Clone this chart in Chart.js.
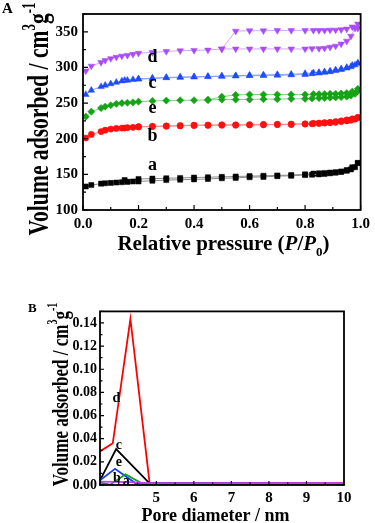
<!DOCTYPE html>
<html><head><meta charset="utf-8">
<script src="https://cdn.jsdelivr.net/npm/chart.js@4.4.0/dist/chart.umd.min.js"></script>
<style>
html,body{margin:0;padding:0;background:#fff;width:375px;height:523px;overflow:hidden}
canvas{position:absolute;left:0}
#ca{top:0}
#cb{top:300px}
</style></head><body>
<canvas id="ca" width="375" height="260"></canvas>
<canvas id="cb" width="375" height="223"></canvas>
<script>
// ---------- Panel A: N2 isotherms ----------
const pAds = [0.01,0.03,0.065,0.08,0.1,0.12,0.14,0.16,0.18,0.2,0.25,0.3,0.35,0.4,0.45,0.5,0.55,0.6,0.65,0.7,0.75,0.8,0.825,0.85,0.87,0.89,0.91,0.93,0.95,0.965,0.98,0.99];
const pDes = [0.99,0.97,0.95,0.93,0.91,0.89,0.87,0.85,0.83,0.8,0.75,0.7,0.65,0.6,0.55,0.5,0.45,0.4,0.35,0.3,0.25,0.2,0.15];
const aAds = [133,135,137,137.5,138,138.5,139,139.5,140,140,141,142,142.5,143,143.5,144.5,145,146,146.5,147.5,148,149,149.5,150,150.5,151.5,152.5,153.5,155,157,160,166];
const aDes = [166,160,156,154,153,152.5,152,151.5,151,150,149,148.5,148,147.5,147,146.5,146,145.5,145,144.5,144,143.5,142];
const bAds = [201,206,210,212,213.5,214.5,215,215.5,216,216.5,217,217.5,218,218.5,219,219,219,219.5,219.5,220,220,220.5,221,221.5,222,222.5,223,224,225,226,227.5,229.5];
const bDes = [230,228,226.5,225,224,223,222.5,222,221.5,221,220.5,220,220,219.5,219.5,219.5,219,219,218.5,218,217.5,217,215];
const eAds = [231,238,243,245,247,249,250,250.5,251,252,253,253.5,254,254,254.5,255,255,255,255.5,255.5,256,256,256.5,257,257,257.5,258,258.5,259,260.5,263,267];
const eDes = [270,266,264,263.5,263,263,262.5,262.5,262.5,262,262,262,262,262,261.5,259,254.5,null,null,null,null,null,null];
const cAds = [262,268,273,275,277,279,281,282,283,283.5,284.5,285.5,286,286.5,287,287.5,288,288.5,288.5,289,289.5,290,291,292,293,294,295.5,297,299,301,303.5,306];
const cDes = [306,303,300,298,296.5,295,294,293,292.5,291.5,290.5,290,289.5,289,288.5,288,287.5,287,286.5,286,285,284,282];
const dAds = [295,302,307,310,312.5,314.5,316,317,318.5,320,321,322.5,323.5,324,324.5,326,326,326,326,326,326,326,326.5,326.5,327,328.5,330,333,337,344,355,355];
const dDes = [361,357,354,353,352.5,352.5,352,352,352,352,352,352,351.5,351.5,351,326,null,null,null,null,null,null,null];
const xTicksA = [0,0.2,0.4,0.6,0.8,1.0];
const xTickLabelsA = ['0.0','0.2','0.4','0.6','0.8','1.0'];
const yTicksA = [100,150,200,250,300,350];
const yTickLabelsA = ['100','150','200','250','300','350'];
const seriesNames = ['a','b','c','d','e'];
const labelPosA = {a:[0.25,155.5], b:[0.25,196.4], c:[0.25,271.7], d:[0.25,307.4], e:[0.25,236]};

// ---------- Panel B: pore size distribution ----------
const dDia = [3.5,3.84,4.31,4.82,10];   const dVol = [0.029,0.036,0.1435,0.002,0.0015];
const cDia = [3.5,3.93,4.82,10];        const cVol = [0.004,0.031,0.0015,0.0005];
const eDia = [3.5,3.9,4.45,10];         const eVol = [0.004,0.014,0.0015,0.0012];
const bDia = [3.5,3.77,4.18,4.68,10];   const bVol = [0.002,0.0003,0.0093,0.0002,0.0002];
const aDia = [3.5,4.3,4.8,10];          const aVol = [0.003,0.0025,0.0015,0.0015];
const xTicksB = [4,5,6,7,8,9,10];
const xTickLabelsB = ['','5','6','7','8','9','10'];
const yTicksB = [0,0.02,0.04,0.06,0.08,0.10,0.12,0.14];
const yTickLabelsB = ['0.00','0.02','0.04','0.06','0.08','0.10','0.12','0.14'];
const labelPosB = {d:[3.94,0.0715], c:[4.0,0.031], e:[4.0,0.016], b:[3.95,0.0027], a:[4.2,0.0]};

// ---------- helpers ----------
const FAM = '"Liberation Serif","Times New Roman",serif';
Chart.defaults.font.family = FAM;
Chart.defaults.color = '#000';
const toXY = (xs, ys) => xs.map((x,i)=>({x, y: ys[i]})).filter(p => p.y !== null && p.y !== undefined);

function fixTicks(vals){ return s => { s.ticks = vals.map(v=>({value:v})); }; }
function labelCb(vals, labels){ return (v) => { const i = vals.findIndex(t => Math.abs(t - v) < 1e-9); return i >= 0 ? labels[i] : ''; }; }

function richText(ctx, x, y, angle, sx, segs){
  ctx.save();
  ctx.translate(x, y);
  ctx.rotate(angle);
  ctx.scale(sx, 1);
  ctx.textAlign = 'left';
  ctx.textBaseline = 'alphabetic';
  ctx.fillStyle = '#000';
  let total = 0;
  segs.forEach(s => { ctx.font = (s.it ? 'italic ' : '') + 'bold ' + s.size + 'px ' + FAM; total += ctx.measureText(s.t).width; });
  let cx = -total / 2;
  segs.forEach(s => {
    ctx.font = (s.it ? 'italic ' : '') + 'bold ' + s.size + 'px ' + FAM;
    ctx.fillText(s.t, cx, s.dy || 0);
    cx += ctx.measureText(s.t).width;
  });
  ctx.restore();
}

const decorPlugin = {
  id: 'decor',
  afterDraw(chart, args, o){
    const ctx = chart.ctx, ca = chart.chartArea;
    const xs = chart.scales.x, ys = chart.scales.y;
    ctx.save();
    // inward ticks
    ctx.strokeStyle = '#000';
    ctx.lineWidth = 1.2;
    ctx.beginPath();
    const xv = xs.ticks.map(t => t.value), yv = ys.ticks.map(t => t.value);
    const mids = (v, lo, hi) => {
      const st = v[1] - v[0], out = [];
      for (let m = v[0] - st/2; m <= hi + 1e-9; m += st) if (m >= lo - 1e-9) out.push(m);
      return out;
    };
    xv.forEach(v => { const p = xs.getPixelForValue(v); ctx.moveTo(p, ca.bottom); ctx.lineTo(p, ca.bottom - o.major); });
    mids(xv, xs.min, xs.max).forEach(v => { const p = xs.getPixelForValue(v); ctx.moveTo(p, ca.bottom); ctx.lineTo(p, ca.bottom - o.minor); });
    yv.forEach(v => { const p = ys.getPixelForValue(v); ctx.moveTo(ca.left, p); ctx.lineTo(ca.left + o.major, p); });
    mids(yv, ys.min, ys.max).forEach(v => { const p = ys.getPixelForValue(v); ctx.moveTo(ca.left, p); ctx.lineTo(ca.left + o.minor, p); });
    ctx.stroke();
    // frame
    ctx.lineWidth = o.frame;
    ctx.strokeRect(ca.left, ca.top, ca.right - ca.left, ca.bottom - ca.top);
    // series labels
    ctx.fillStyle = '#000';
    ctx.textAlign = 'center';
    ctx.textBaseline = 'alphabetic';
    ctx.font = 'bold ' + o.labelSize + 'px ' + FAM;
    seriesNames.forEach(n => {
      const p = o.labels[n];
      ctx.fillText(n, xs.getPixelForValue(p[0]), ys.getPixelForValue(p[1]));
    });
    // panel letter
    ctx.textAlign = 'left';
    ctx.font = 'bold ' + o.panelSize + 'px ' + FAM;
    ctx.fillText(o.panel, o.panelX, o.panelY);
    // axis titles
    o.titles.forEach(t => richText(ctx, t.x, t.y, t.angle, t.sx, t.segs));
    ctx.restore();
  }
};

// ---------- Chart A ----------
const lineA = (data, mk, col, lcol, rot, r) => ({
  data, showLine: true, borderColor: lcol, borderWidth: 1,
  pointStyle: mk, pointRotation: rot, pointRadius: r,
  pointBackgroundColor: col, pointBorderColor: col, pointBorderWidth: 0.5
});
const colA = {a:'#000000', b:'#ff1010', c:'#1f4bff', d:'#a94cf5', e:'#16a316'};
const lcolA = {a:'#8c8c8c', b:'#ff8c8c', c:'#8aa2ff', d:'#d5a6fb', e:'#86cf86'};

new Chart(document.getElementById('ca'), {
  type: 'scatter',
  data: { datasets: [
    lineA(toXY(pAds, aAds), 'rect', colA.a, lcolA.a, 0, 3.6),
    lineA(toXY(pDes, aDes), 'rect', colA.a, lcolA.a, 0, 3.6),
    lineA(toXY(pAds, bAds), 'circle', colA.b, lcolA.b, 0, 3.1),
    lineA(toXY(pDes, bDes), 'circle', colA.b, lcolA.b, 0, 3.1),
    lineA(toXY(pAds, eAds), 'rectRot', colA.e, lcolA.e, 0, 3.6),
    lineA(toXY(pDes, eDes), 'rectRot', colA.e, lcolA.e, 0, 3.6),
    lineA(toXY(pAds, cAds), 'triangle', colA.c, lcolA.c, 0, 3.8),
    lineA(toXY(pDes, cDes), 'triangle', colA.c, lcolA.c, 0, 3.8),
    lineA(toXY(pAds, dAds), 'triangle', colA.d, lcolA.d, 180, 3.8),
    lineA(toXY(pDes, dDes), 'triangle', colA.d, lcolA.d, 180, 3.8)
  ]},
  options: {
    responsive: false, animation: false, devicePixelRatio: 1,
    layout: { padding: { left: 0, top: 2, right: 12, bottom: 0 } },
    plugins: {
      legend: { display: false }, tooltip: { enabled: false },
      decor: {
        major: 5, minor: 3, frame: 1.8, labelSize: 18, labels: labelPosA,
        panel: 'A', panelSize: 15, panelX: 2, panelY: 13,
        titles: [
          { x: 48, y: 119, angle: -Math.PI/2, sx: 0.72, segs: [
            {t:'Volume adsorbed / cm', size:30}, {t:'3', size:18, dy:-13}, {t:'g', size:30}, {t:'-1', size:18, dy:-13}] },
          { x: 223.5, y: 250, angle: 0, sx: 1, segs: [
            {t:'Relative pressure (', size:21}, {t:'P', size:21, it:true}, {t:'/', size:21},
            {t:'P', size:21, it:true}, {t:'0', size:13, dy:6}, {t:')', size:21}] }
        ]
      }
    },
    scales: {
      x: { type: 'linear', min: 0, max: 1,
        afterBuildTicks: fixTicks(xTicksA), afterFit: s => { s.height = 50; },
        grid: { display: false, drawTicks: false }, border: { display: false },
        ticks: { autoSkip: false, maxRotation: 0, padding: 5, color: '#000',
          font: { size: 15, weight: 'bold' }, callback: labelCb(xTicksA, xTickLabelsA) } },
      y: { type: 'linear', min: 100, max: 375,
        afterBuildTicks: fixTicks(yTicksA), afterFit: s => { s.width = 83; },
        grid: { display: false, drawTicks: false }, border: { display: false },
        ticks: { autoSkip: false, padding: 5, color: '#000',
          font: { size: 15, weight: 'bold' }, callback: labelCb(yTicksA, yTickLabelsA) } }
    }
  },
  plugins: [decorPlugin]
});

// ---------- Chart B ----------
const lineB = (data, col, w) => ({ data, showLine: true, borderColor: col, borderWidth: w, pointRadius: 0 });
new Chart(document.getElementById('cb'), {
  type: 'scatter',
  data: { datasets: [
    Object.assign(lineB(toXY(aDia, aVol), '#c040ff', 1.8), {order: 0}),
    Object.assign(lineB(toXY(bDia, bVol), '#14a014', 1.8), {order: 1}),
    Object.assign(lineB(toXY(eDia, eVol), '#1a3cff', 1.8), {order: 2}),
    Object.assign(lineB(toXY(cDia, cVol), '#000000', 1.8), {order: 3}),
    Object.assign(lineB(toXY(dDia, dVol), '#ff0000', 1.8), {order: 4})
  ]},
  options: {
    responsive: false, animation: false, devicePixelRatio: 1,
    layout: { padding: { left: 0, top: 4, right: 31, bottom: 0 } },
    plugins: {
      legend: { display: false }, tooltip: { enabled: false },
      decor: {
        major: 4, minor: 2.5, frame: 1.8, labelSize: 14, labels: labelPosB,
        panel: 'B', panelSize: 13, panelX: 28, panelY: 12,
        titles: [
          { x: 68, y: 94.5, angle: -Math.PI/2, sx: 0.71, segs: [
            {t:'Volume adsorbed / cm', size:24}, {t:'3', size:14, dy:-11}, {t:'g', size:24}, {t:'-1', size:14, dy:-11}] },
          { x: 215.5, y: 221, angle: 0, sx: 1, segs: [ {t:'Pore diameter / nm', size:18} ] }
        ]
      }
    },
    scales: {
      x: { type: 'linear', min: 3.5, max: 10,
        afterBuildTicks: fixTicks(xTicksB), afterFit: s => { s.height = 38; },
        grid: { display: false, drawTicks: false }, border: { display: false },
        ticks: { autoSkip: false, maxRotation: 0, padding: 4, color: '#000',
          font: { size: 15, weight: 'bold' }, callback: labelCb(xTicksB, xTickLabelsB) } },
      y: { type: 'linear', min: 0, max: 0.15,
        afterBuildTicks: fixTicks(yTicksB), afterFit: s => { s.width = 100; },
        grid: { display: false, drawTicks: false }, border: { display: false },
        ticks: { autoSkip: false, padding: 3, color: '#000',
          font: { size: 14, weight: 'bold' }, callback: labelCb(yTicksB, yTickLabelsB) } }
    }
  },
  plugins: [decorPlugin]
});
</script>
</body></html>
